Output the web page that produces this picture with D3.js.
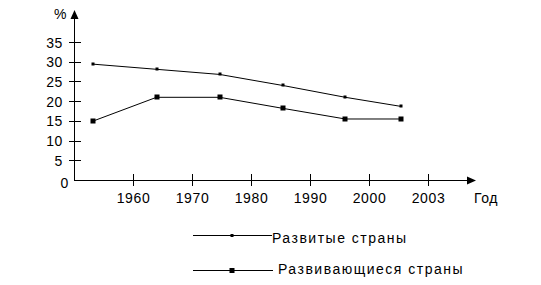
<!DOCTYPE html>
<html>
<head>
<meta charset="utf-8">
<script src="https://cdn.jsdelivr.net/npm/d3@7"></script>
<style>
  body { margin: 0; background: #fff; }
  svg text { font-family: "Liberation Sans", Arial, sans-serif; font-size: 14px; fill: #000; letter-spacing: 0.6px; }
  .axis path, .axis line { stroke: #000; stroke-width: 1px; shape-rendering: crispEdges; }
</style>
</head>
<body>
<div class="container"></div>
<script>
const WIDTH = 541;
const HEIGHT = 285;

// подписи оси X стоят на равных интервалах (1..6), точки данных - между ними
var yearLabels = ["1960", "1970", "1980", "1990", "2000", "2003"];
var pointPos = [0.32, 1.39, 2.46, 3.53, 4.59, 5.53];
var developed = [29.5, 28.2, 26.9, 24.1, 21.1, 18.8];
var developing = [15.1, 21.1, 21.1, 18.3, 15.6, 15.6];
var yTicks = [0, 5, 10, 15, 20, 25, 30, 35];
var legendNames = ["Развитые страны", "Развивающиеся страны"];

var translate = function (x, y) {
    return "translate(" + x + "," + y + ")";
};

var svg = d3.select('.container').append('svg')
    .attr('width', WIDTH)
    .attr('height', HEIGHT);

var x0 = 74.5, y0 = 180.5;

var xScale = d3.scaleLinear()
    .domain([0, 6])
    .range([x0, 428.5]);

var yScale = d3.scaleLinear()
    .domain([0, 35])
    .range([y0, 42.5]);

// оси
var axisG = svg.append('g').classed('axis', true);
axisG.append('line')
    .attr('x1', x0).attr('y1', y0)
    .attr('x2', x0).attr('y2', 18);
axisG.append('line')
    .attr('x1', x0).attr('y1', y0)
    .attr('x2', 468).attr('y2', y0);

// стрелки
svg.append('path')
    .attr('d', 'M' + x0 + ',10 L' + (x0 - 4) + ',19 L' + (x0 + 4) + ',19 Z')
    .attr('fill', '#000');
svg.append('path')
    .attr('d', 'M476,' + y0 + ' L467,' + (y0 - 4) + ' L467,' + (y0 + 4) + ' Z')
    .attr('fill', '#000');

svg.append('text')
    .attr('x', 54).attr('y', 19)
    .text('%');

// деления оси Y
axisG.selectAll('.ytick')
    .data(yTicks.filter(function (d) { return d > 0; }))
    .enter().append('line')
    .attr('x1', x0 - 6).attr('x2', x0 + 6)
    .attr('y1', function (d) { return yScale(d); })
    .attr('y2', function (d) { return yScale(d); });

svg.selectAll('.ylabel')
    .data(yTicks)
    .enter().append('text')
    .attr('x', function (d) { return d === 0 ? 69 : 63; })
    .attr('y', function (d) { return d === 0 ? yScale(d) + 7 : yScale(d) + 5; })
    .attr('text-anchor', 'end')
    .text(function (d) { return d; });

// деления оси X
axisG.selectAll('.xtick')
    .data(yearLabels)
    .enter().append('line')
    .attr('x1', function (d, i) { return xScale(i + 1); })
    .attr('x2', function (d, i) { return xScale(i + 1); })
    .attr('y1', y0 - 7).attr('y2', y0 + 5);

svg.selectAll('.xlabel')
    .data(yearLabels)
    .enter().append('text')
    .attr('x', function (d, i) { return xScale(i + 1); })
    .attr('y', y0 + 22)
    .attr('text-anchor', 'middle')
    .text(function (d) { return d; });

svg.append('text')
    .attr('x', 474).attr('y', y0 + 22)
    .text('Год');

// линии
var line = d3.line()
    .x(function (d, i) { return xScale(pointPos[i]); })
    .y(function (d) { return yScale(d); });

svg.append('path')
    .attr('d', line(developed))
    .attr('fill', 'none').attr('stroke', '#000').attr('stroke-width', 1);
svg.append('path')
    .attr('d', line(developing))
    .attr('fill', 'none').attr('stroke', '#000').attr('stroke-width', 1);

svg.selectAll('.dot')
    .data(developed)
    .enter().append('rect')
    .attr('x', function (d, i) { return Math.round(xScale(pointPos[i])) - 1.5; })
    .attr('y', function (d) { return Math.round(yScale(d)) - 1.5; })
    .attr('width', 3).attr('height', 3)
    .attr('fill', '#000');

svg.selectAll('.sq')
    .data(developing)
    .enter().append('rect')
    .attr('x', function (d, i) { return Math.round(xScale(pointPos[i])) - 2.5; })
    .attr('y', function (d) { return Math.round(yScale(d)) - 2.5; })
    .attr('width', 5).attr('height', 5)
    .attr('fill', '#000');

// легенда
var legend = [
    { y: 235.5, x2: 272, mark: 3, tx: 272, ty: 243 },
    { y: 270.5, x2: 273, mark: 5, tx: 278, ty: 274 }
];
legend.forEach(function (l, i) {
    svg.append('line')
        .attr('x1', 193).attr('x2', l.x2)
        .attr('y1', l.y).attr('y2', l.y)
        .attr('stroke', '#000').attr('shape-rendering', 'crispEdges');
    svg.append('rect')
        .attr('x', 232 - l.mark / 2).attr('y', l.y - l.mark / 2)
        .attr('width', l.mark).attr('height', l.mark)
        .attr('fill', '#000');
    svg.append('text')
        .attr('x', l.tx).attr('y', l.ty)
        .style('letter-spacing', '1.5px')
        .text(legendNames[i]);
});
</script>
</body>
</html>
